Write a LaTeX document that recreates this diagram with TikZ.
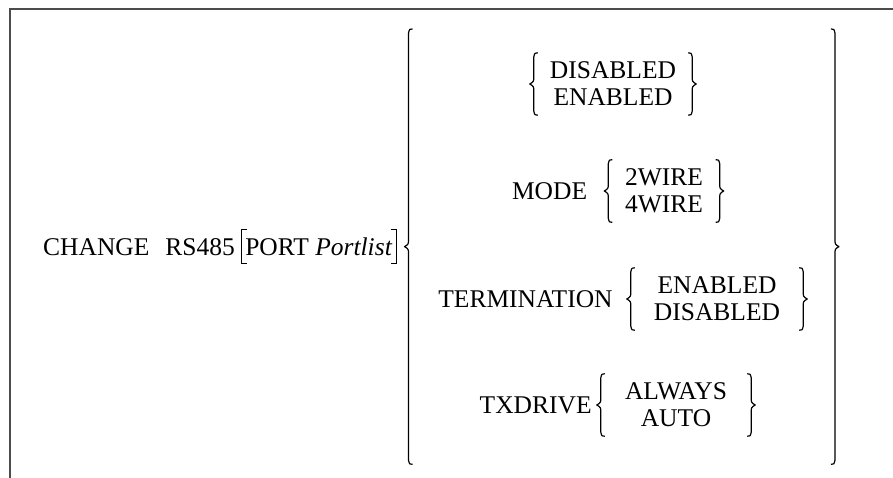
\documentclass[tikz,border=0pt]{standalone}
\usepackage{fontspec}
\setmainfont{Liberation Serif}
\usetikzlibrary{positioning,calc}

% curly delimiters drawn along the left / right side of a node
\newcommand\curlleft[2]{%
  \draw[curl] let \p1=(#1.north west), \p2=(#1.south west), \p3=(#1.west) in
    (\x1+#2,\y1) .. controls (\x1+1pt,\y1) .. (\x1,\y1-#2)
    -- (\x1,\y3+2*#2) .. controls (\x1,\y3+0.6*#2) .. (\x1-#2,\y3)
    .. controls (\x1,\y3-0.6*#2) .. (\x1,\y3-2*#2)
    -- (\x1,\y2+#2) .. controls (\x1+1pt,\y2) .. (\x1+#2,\y2);}
\newcommand\curlright[2]{%
  \draw[curl] let \p1=(#1.north east), \p2=(#1.south east), \p3=(#1.east) in
    (\x1-#2,\y1) .. controls (\x1-1pt,\y1) .. (\x1,\y1-#2)
    -- (\x1,\y3+2*#2) .. controls (\x1,\y3+0.6*#2) .. (\x1+#2,\y3)
    .. controls (\x1,\y3-0.6*#2) .. (\x1,\y3-2*#2)
    -- (\x1,\y2+#2) .. controls (\x1-1pt,\y2) .. (\x1-#2,\y2);}

\begin{document}
\begin{tikzpicture}[x=1pt,y=-1pt,
    every node/.style={font=\fontsize{25.5}{27}\selectfont},
    word/.style={inner sep=0pt},
    stack/.style={align=center,inner xsep=0pt,inner ysep=9pt},
    curl/.style={line width=1.2pt,line join=round},
    frame/.style={draw=black!70,line width=2pt}]
  \useasboundingbox (0,0) rectangle (893,478);
  \draw[frame] (893,9.5) -- (9.5,9.5) -- (9.5,478);

  % command and port option
  \node[word,anchor=base west] (chg) at (43,255) {CHANGE\hspace{16pt}RS485};
  \node[inner xsep=4pt,inner ysep=0pt,minimum height=34pt,right=6pt of chg] (port) {PORT \textit{Portlist}};
  \draw[line width=1pt] ([xshift=6pt]port.north west) -- (port.north west) -- (port.south west) -- ([xshift=6pt]port.south west);
  \draw[line width=1pt] ([xshift=-6pt]port.north east) -- (port.north east) -- (port.south east) -- ([xshift=-6pt]port.south east);

  % the four choices
  \node[inner sep=0pt,minimum width=426pt,minimum height=435pt,right=12pt of port] (opts) {};
  \curlleft{opts}{4pt}
  \curlright{opts}{4pt}

  \node[stack,minimum width=158pt] (s1) at (613,84) {DISABLED\\ENABLED};
  \node[stack,minimum width=111pt] (s2) at (664,191) {2WIRE\\4WIRE};
  \node[stack,minimum width=172pt] (s3) at (717,299) {ENABLED\\DISABLED};
  \node[stack,minimum width=150pt] (s4) at (676,405) {ALWAYS\\AUTO};

  \node[word,left=21pt of s2.west] (kmode) {MODE};
  \node[word,left=18pt of s3.west] (kterm) {TERMINATION};
  \node[word,left=9pt of s4.west] (kdrive) {TXDRIVE};

  \curlleft{s1}{4pt} \curlright{s1}{4pt}
  \curlleft{s2}{4pt} \curlright{s2}{4pt}
  \curlleft{s3}{4pt} \curlright{s3}{4pt}
  \curlleft{s4}{4pt} \curlright{s4}{4pt}
\end{tikzpicture}
\end{document}
